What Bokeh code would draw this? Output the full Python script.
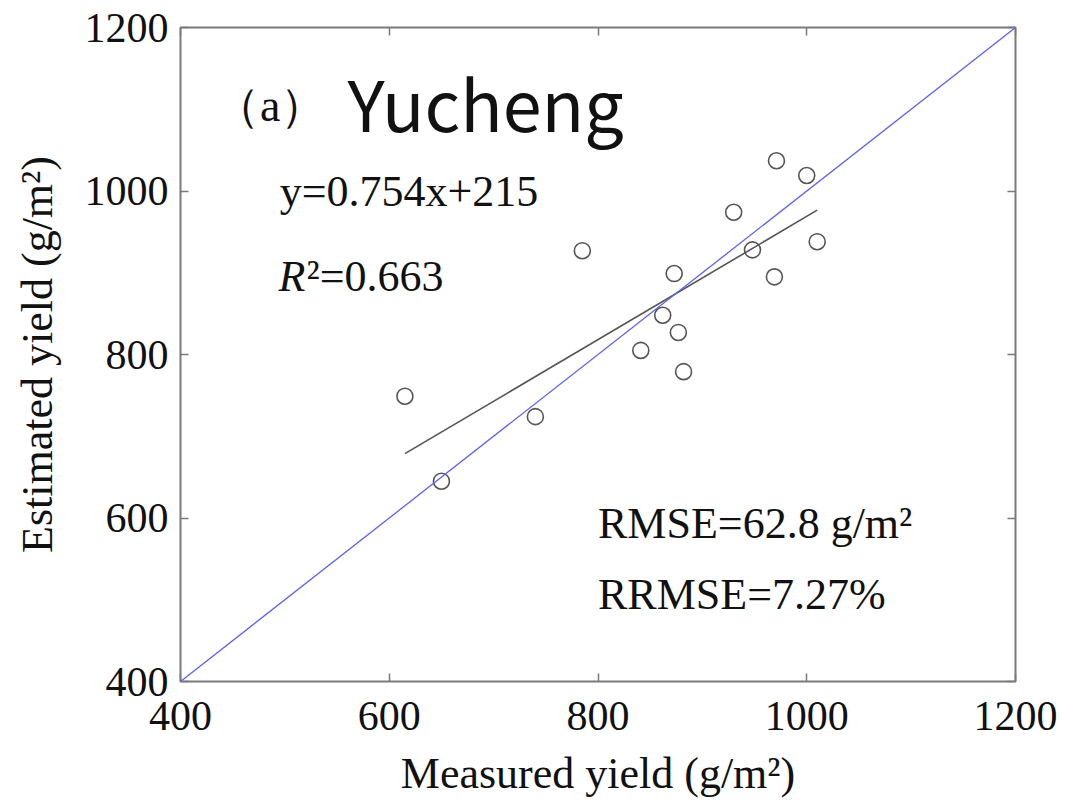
from bokeh.plotting import figure
from bokeh.models import Label, Slope, Range1d, LinearAxis, FixedTicker
from bokeh.embed import file_html
from bokeh.resources import INLINE
import numpy as np

# ---- data ----
measured = [615, 650, 740, 785, 841, 862, 873, 877, 882, 930, 948, 969, 971, 1000, 1010]
estimated = [749, 645, 724, 927, 805, 848, 899, 827, 779, 974, 928, 895, 1037, 1019, 938]
slope_fit = 0.754
intercept_fit = 215
tick_values = [400, 600, 800, 1000, 1200]

p = figure(width=1065, height=802, output_backend="svg", toolbar_location=None,
           x_range=Range1d(400, 1200), y_range=Range1d(400, 1200),
           min_border_left=180, min_border_right=50, min_border_top=27, min_border_bottom=121,
           x_axis_location=None, y_axis_location=None)
p.background_fill_color = "white"
p.border_fill_color = "white"
p.grid.visible = False
p.outline_line_color = "#7a7a7a"
p.outline_line_width = 2

serif = "Liberation Serif"

def style_axis(ax, labels=True):
    ax.ticker = FixedTicker(ticks=tick_values)
    ax.axis_line_color = None
    ax.major_tick_in = 8
    ax.major_tick_out = 0
    ax.minor_tick_line_color = None
    ax.major_tick_line_color = "#7a7a7a"
    ax.major_tick_line_width = 1.5
    ax.major_label_text_font = serif
    ax.major_label_text_font_size = "42px"
    ax.major_label_text_color = "#111111"
    ax.axis_label_text_font = serif
    ax.axis_label_text_font_style = "normal"
    ax.axis_label_text_color = "#111111"
    if not labels:
        ax.major_label_text_font_size = "0px"
        ax.major_label_text_alpha = 0

left = LinearAxis(axis_label="Estimated yield (g/m²)")
style_axis(left)
left.axis_label_text_font_size = "44px"
left.major_label_standoff = 12
left.axis_label_standoff = 20
p.add_layout(left, "left")

bottom = LinearAxis(axis_label="Measured yield (g/m²)")
style_axis(bottom)
bottom.axis_label_text_font_size = "44px"
bottom.major_label_standoff = 20
bottom.axis_label_standoff = 16
p.add_layout(bottom, "below")

right = LinearAxis()
style_axis(right, labels=False)
p.add_layout(right, "right")

top = LinearAxis()
style_axis(top, labels=False)
p.add_layout(top, "above")

# 1:1 line
p.add_layout(Slope(gradient=1, y_intercept=0, line_color="#6060f0", line_width=1.3))

# regression line over measured range
xs = np.array([min(measured), max(measured)])
p.line(xs, slope_fit * xs + intercept_fit, line_color="#555555", line_width=1.6)

# points
p.scatter(measured, estimated, size=16, marker="circle", fill_color=None,
          line_color="#555555", line_width=1.6)

def lab(text, x, y, size, font=serif, style="normal", x_offset=0, y_offset=0):
    p.add_layout(Label(x=x, y=y, text=text, text_font=font, text_font_size=size,
                       text_font_style=style, text_color="#111111",
                       text_baseline="alphabetic", text_align="left",
                       x_offset=x_offset, y_offset=y_offset))

lab("（a）", 432, 1104, "46px")
lab("Yucheng", 560, 1109, "70px", font="Noto Sans CJK SC")
lab("y=0.754x+215", 495, 1000, "44px")
lab("R", 494, 895, "44px", style="italic")
lab("²=0.663", 494, 895, "44px", x_offset=28)
lab("RMSE=62.8 g/m²", 800, 593, "44px")
lab("RRMSE=7.27%", 800, 507, "44px")

open("out.html", "w").write(file_html(p, INLINE))
